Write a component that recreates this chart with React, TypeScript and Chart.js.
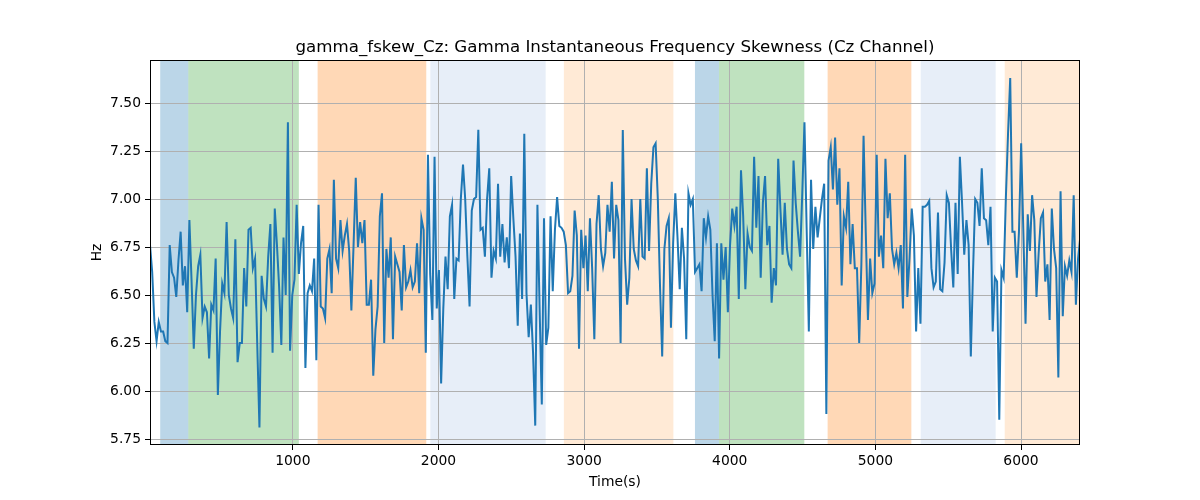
import React, { useEffect, useRef } from "react";
import { Chart, registerables } from "chart.js";

Chart.register(...registerables);

const startTime = 19;
const sampleStep = 15.03;

const hzValues: number[] = [
  6.76, 6.62, 6.36, 6.26, 6.36, 6.31, 6.31, 6.26, 6.25, 6.76,
  6.62, 6.59, 6.49, 6.68, 6.83, 6.55, 6.65, 6.41, 6.89, 6.57,
  6.22, 6.50, 6.65, 6.71, 6.38, 6.44, 6.41, 6.17, 6.45, 6.42,
  6.69, 5.98, 6.31, 6.56, 6.51, 6.88, 6.50, 6.43, 6.38, 6.79,
  6.15, 6.25, 6.25,
  6.64, 6.44, 6.84, 6.85, 6.64, 6.69, 6.24, 5.81, 6.60, 6.48,
  6.44, 6.70, 6.87, 6.20, 6.95, 6.76, 6.54, 6.24, 6.80, 6.50,
  7.40, 6.21, 6.50, 6.58, 6.97, 6.61, 6.77, 6.86, 6.12, 6.51,
  6.55, 6.52, 6.69, 6.16, 6.97, 6.44, 6.43, 6.38, 6.69, 6.74,
  6.51, 7.10,
  6.69, 6.64, 6.89, 6.73, 6.81, 6.87, 6.73, 6.42, 6.76, 7.11,
  6.75, 6.88, 6.77, 6.89, 6.45, 6.45, 6.58, 6.08, 6.32, 6.44,
  6.91, 7.03, 6.25, 6.74, 6.59, 6.80, 6.27, 6.70, 6.66, 6.62,
  6.42, 6.76, 6.54, 6.57, 6.63, 6.54, 6.57, 6.77, 6.51, 6.90,
  6.84, 6.20,
  7.23, 6.61, 6.37, 7.22, 6.43, 6.63, 6.04, 6.43, 6.70, 6.53,
  6.91, 6.97, 6.48, 6.69, 6.68, 7.00, 7.18, 7.00, 6.70, 6.44,
  6.94, 7.00, 7.01, 7.36, 6.84, 6.85, 6.70, 7.00, 7.16, 6.59,
  6.73, 6.69, 7.08, 6.70, 6.87, 6.67, 6.80, 6.64, 7.12, 6.90,
  6.70, 6.34,
  6.82, 6.48, 7.34, 6.51, 6.28, 6.45, 6.20, 5.82, 6.97, 6.43,
  5.93, 6.90, 6.24, 6.33, 6.91, 6.52, 6.84, 7.01, 6.86, 6.85,
  6.83, 6.76, 6.51, 6.52, 6.60, 6.94, 6.81, 6.22, 6.84, 6.64,
  6.81, 6.52, 6.90, 6.64, 6.27, 6.87, 7.02, 6.74, 6.65, 6.72,
  6.97, 6.83, 7.09,
  6.69, 6.97, 6.89, 6.25, 7.36, 6.69, 6.45, 6.59, 7.00, 6.74,
  6.68, 6.65, 7.00, 6.70, 6.69, 7.16, 6.73, 7.08, 7.27, 7.29,
  7.00, 6.55, 6.18, 6.74, 6.86, 6.90, 6.33, 6.77, 7.03, 6.80,
  6.53, 6.85, 6.69, 6.27, 7.03, 6.97, 7.00, 6.62, 6.64, 6.66,
  6.52, 6.90,
  6.80, 6.91, 6.84, 6.50, 6.26, 6.77, 6.17, 6.77, 6.58, 6.75,
  6.41, 6.76, 6.95, 6.86, 6.96, 6.48, 7.15, 6.91, 6.53, 6.82,
  6.75, 6.73, 7.22, 6.85, 7.12, 6.59, 6.98, 7.12, 6.76, 6.86,
  6.46, 6.64, 6.55, 7.21, 6.95, 6.71, 6.98, 6.74, 6.66, 6.64,
  7.20, 6.98,
  6.83, 6.70, 7.03, 7.40, 6.84, 6.31, 7.10, 6.74, 6.96, 6.80,
  6.90, 7.00, 7.08, 5.88, 7.20, 7.27, 7.05, 7.32, 6.97, 7.16,
  6.55, 6.91, 6.85, 7.09, 6.66, 6.87, 6.64, 6.64, 6.25, 6.66,
  7.33, 6.83, 6.37, 6.69, 6.51, 6.56, 7.23, 6.70, 6.81, 6.64,
  7.21, 6.90,
  7.03, 6.74, 6.66, 6.72, 6.64, 6.76, 6.43, 7.23, 6.49, 6.69,
  6.95, 6.81, 6.31, 6.64, 6.35, 6.96, 6.96, 6.97, 6.99, 6.64,
  6.54, 6.57, 6.93, 6.53, 6.52, 6.67, 7.02, 6.98, 6.74, 6.54,
  6.98, 6.61, 7.22, 6.98, 6.71, 6.89, 6.76, 6.18, 6.62, 7.00,
  6.98, 6.86,
  7.16, 6.90, 6.89, 6.76, 6.96, 6.31, 6.59, 6.57, 5.85, 6.63,
  6.59, 7.00, 7.34, 7.63, 6.83, 6.83, 6.59, 6.83, 7.29, 6.83,
  6.35, 6.92, 6.73, 7.02, 6.89, 6.49, 6.72, 6.90, 6.93, 6.57,
  6.66, 6.37, 6.95, 6.74, 6.64, 6.07, 7.04, 6.39, 6.65, 6.60,
  6.68, 6.62, 7.02, 6.45, 6.69, 6.80,
];

const timeValues: number[] = hzValues.map((_, i) => startTime + i * sampleStep);

const spanStarts: number[] = [89, 282, 1170, 1944, 2861, 3761, 3926, 4672, 5311, 5888];
const spanEnds: number[] = [282, 1041, 1916, 2736, 3613, 3926, 4512, 5247, 5826, 6405];
const spanKinds: string[] = ["blue", "green", "orange", "lightblue", "lightorange", "blue", "green", "orange", "lightblue", "lightorange"];

const xTickValues: number[] = [1000, 2000, 3000, 4000, 5000, 6000];
const yTickValues: number[] = [5.75, 6.0, 6.25, 6.5, 6.75, 7.0, 7.25, 7.5];

const xMin = 19;
const xMax = 6405;
const yMin = 5.719;
const yMax = 7.724;

const titleText = "gamma_fskew_Cz: Gamma Instantaneous Frequency Skewness (Cz Channel)";
const xLabel = "Time(s)";
const yLabel = "Hz";

const spanColors: Record<string, string> = {
  blue: "rgba(31,119,180,0.3)",
  green: "rgba(44,160,44,0.3)",
  orange: "rgba(255,127,14,0.3)",
  lightblue: "rgba(174,199,232,0.3)",
  lightorange: "rgba(255,187,120,0.3)",
};

const FONT = '"DejaVu Sans", sans-serif';

export default function App() {
  const canvasRef = useRef<HTMLCanvasElement | null>(null);

  useEffect(() => {
    const canvas = canvasRef.current;
    if (!canvas) return;

    const spanPlugin = {
      id: "spans",
      beforeDraw(chart: any) {
        const { ctx, chartArea, scales } = chart;
        ctx.save();
        ctx.beginPath();
        ctx.rect(chartArea.left, chartArea.top, chartArea.right - chartArea.left, chartArea.bottom - chartArea.top);
        ctx.clip();
        for (let i = 0; i < spanStarts.length; i++) {
          const x0 = scales.x.getPixelForValue(spanStarts[i]);
          const x1 = scales.x.getPixelForValue(spanEnds[i]);
          ctx.fillStyle = spanColors[spanKinds[i]];
          ctx.fillRect(x0, chartArea.top, x1 - x0, chartArea.bottom - chartArea.top);
        }
        ctx.restore();
      },
      afterDraw(chart: any) {
        const { ctx, chartArea } = chart;
        ctx.save();
        ctx.strokeStyle = "#000";
        ctx.lineWidth = 1;
        ctx.strokeRect(
          Math.round(chartArea.left) + 0.5,
          Math.round(chartArea.top) + 0.5,
          Math.round(chartArea.right - chartArea.left) - 1,
          Math.round(chartArea.bottom - chartArea.top) - 1
        );
        ctx.fillStyle = "#000";
        ctx.textAlign = "center";
        ctx.textBaseline = "alphabetic";
        const cx = (chartArea.left + chartArea.right) / 2;
        ctx.font = `16.67px ${FONT}`;
        ctx.fillText(titleText, cx, 52);
        ctx.font = `13.89px ${FONT}`;
        ctx.fillText(xLabel, cx, 486);
        ctx.translate(101, (chartArea.top + chartArea.bottom) / 2);
        ctx.rotate(-Math.PI / 2);
        ctx.fillText(yLabel, 0, 0);
        ctx.restore();
      },
    };

    const chart = new Chart(canvas, {
      type: "line",
      data: {
        datasets: [
          {
            data: timeValues.map((t, i) => ({ x: t, y: hzValues[i] })),
            borderColor: "#1f77b4",
            borderWidth: 2,
            pointRadius: 0,
            tension: 0,
            fill: false,
          },
        ],
      },
      options: {
        responsive: false,
        animation: false,
        devicePixelRatio: 1,
        layout: { padding: { left: 0, right: 120, top: 60, bottom: 0 } },
        plugins: {
          legend: { display: false },
          title: { display: false },
          tooltip: { enabled: false },
        },
        scales: {
          x: {
            type: "linear",
            min: xMin,
            max: xMax,
            afterBuildTicks: (scale: any) => {
              scale.ticks = xTickValues.map((v) => ({ value: v }));
            },
            afterFit: (scale: any) => {
              scale.height = 55;
            },
            grid: {
              color: "#b0b0b0",
              lineWidth: 1,
              tickColor: "#000",
              tickLength: 5,
              tickWidth: 1,
            },
            border: { display: false },
            ticks: {
              color: "#000",
              font: { family: FONT, size: 13.89 },
              padding: 3,
              maxRotation: 0,
              autoSkip: false,
              callback: (v: any) => String(v),
            },
          },
          y: {
            type: "linear",
            min: yMin,
            max: yMax,
            afterBuildTicks: (scale: any) => {
              scale.ticks = yTickValues.map((v) => ({ value: v }));
            },
            afterFit: (scale: any) => {
              scale.width = 150;
            },
            grid: {
              color: "#b0b0b0",
              lineWidth: 1,
              tickColor: "#000",
              tickLength: 5,
              tickWidth: 1,
            },
            border: { display: false },
            ticks: {
              color: "#000",
              font: { family: FONT, size: 13.89 },
              padding: 4,
              autoSkip: false,
              callback: (v: any) => Number(v).toFixed(2),
            },
          },
        },
      },
      plugins: [spanPlugin],
    });

    return () => {
      chart.destroy();
    };
  }, []);

  return (
    <div style={{ position: "fixed", left: 0, top: 0, width: 1200, height: 500, background: "#fff" }}>
      <canvas ref={canvasRef} width={1200} height={500} style={{ width: 1200, height: 500, display: "block" }} />
    </div>
  );
}
